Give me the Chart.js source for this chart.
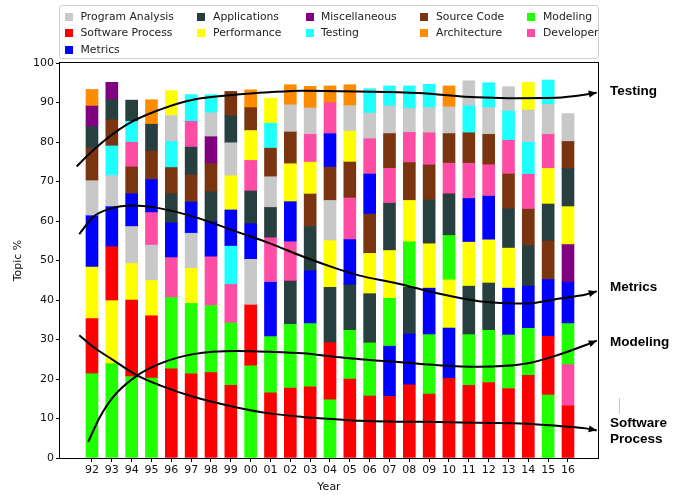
<!DOCTYPE html>
<html><head><meta charset="utf-8">
<script src="https://cdn.jsdelivr.net/npm/chart.js@4"></script>
<style>
body{margin:0;background:#fff;}
#wrap{position:relative;width:686px;height:495px;}
#c{position:absolute;left:0;top:0;}
#legend{position:absolute;left:59px;top:5px;width:540px;height:54px;border:1px solid #cfcfcf;border-radius:3px;background:rgba(255,255,255,0.85);box-sizing:border-box;font-family:"DejaVu Sans",sans-serif;font-size:10.8px;color:#222;z-index:2;}
.li{position:absolute;white-space:nowrap;line-height:12px;height:12px;}
.sw{position:absolute;width:8px;height:8px;}
</style></head><body>
<div id="wrap"><canvas id="c" width="686" height="495"></canvas><div id="legend"></div></div>
<script>
const years = ['92','93','94','95','96','97','98','99','00','01','02','03','04','05','06','07','08','09','10','11','12','13','14','15','16'];
const topics = ['Program Analysis','Software Process','Metrics','Applications','Performance','Miscellaneous','Testing','Source Code','Architecture','Modeling','Developer'];
const colors = ['#c8c8c8','#ff0000','#0000ff','#283f3f','#ffff00','#800080','#1effff','#7a3510','#ff8c00','#22ff00','#ff4da6'];

const programAnalysis = [8.7,7.7,9.2,8.8,6.4,8.7,5.9,8.2,11.4,7.6,6.7,6.5,10.0,6.3,6.3,6.8,5.9,6.2,6.6,6.2,6.6,6.0,8.0,7.4,6.9];
const softwareProcess = [13.8,13.5,19.2,15.6,22.6,21.3,21.6,18.4,15.4,16.5,17.7,18.0,14.3,20.0,15.7,15.6,18.5,16.2,20.2,18.4,19.1,17.6,20.9,14.7,13.2];
const metrics         = [13.0,10.3,8.3,8.2,8.6,7.9,8.7,9.0,9.0,13.6,10.0,13.2,8.3,11.3,10.0,12.7,12.9,11.6,12.7,10.9,10.9,11.7,10.5,14.4,10.3];
const applications    = [5.3,4.9,5.2,6.6,7.4,6.9,7.6,6.9,8.3,7.7,10.8,11.2,14.0,11.5,12.3,11.8,11.8,10.9,10.4,12.1,11.8,9.8,10.3,9.2,9.5];
const performance     = [13.2,15.9,9.4,9.1,6.3,8.9,0,8.8,7.4,6.2,9.6,7.9,12.0,7.8,10.2,12.1,10.3,11.4,12.2,11.3,11.1,10.3,7.0,9.0,9.6];
const miscellaneous   = [5.2,4.4,0,0,0,0,6.8,0,0,0,0,0,0,0,0,0,0,0,0,0,0,0,0,0,9.7];
const testing         = [0,7.5,5.3,0,6.6,6.6,4.6,9.7,0,6.3,0,0,0,0,6.2,5.1,5.7,5.9,0,6.8,6.3,7.4,8.1,6.2,0];
const sourceCode      = [8.4,6.8,6.8,7.4,6.8,7.0,7.3,6.1,5.8,7.4,8.2,8.4,8.6,9.1,10.1,8.8,9.6,8.9,7.5,7.7,7.7,8.8,9.2,9.9,7.0];
const architecture    = [4.2,0,0,6.2,0,0,0,0,4.5,0,5.1,5.5,4.1,5.3,0,0,0,0,5.3,0,0,0,0,0,0];
const modeling        = [21.5,24.1,20.8,20.4,18.0,18.0,17.0,15.8,23.5,14.4,16.3,16.2,14.9,12.5,13.6,12.3,11.7,15.2,11.4,13.0,13.4,13.7,12.1,16.1,10.4];
const developer       = [0,0,6.4,8.4,10.3,6.7,12.5,9.9,7.9,11.4,10.1,7.2,8.0,10.7,9.1,9.0,7.8,8.3,7.9,9.1,8.1,8.7,9.0,8.8,10.6];
const values = [programAnalysis,softwareProcess,metrics,applications,performance,miscellaneous,testing,sourceCode,architecture,modeling,developer];

// hand-drawn trend curves (x = year index, y = topic %)
const testingTrend  = [[-0.77,73.8],[0.07,78.0],[1.75,84.4],[3.43,88.2],[5.09,90.7],[7.3,92.0],[8.93,92.6],[10.63,93.0],[13.5,92.8],[16.44,92.4],[19.4,91.3],[21.0,91.1],[23.4,91.2],[24.9,92.0],[25.45,92.5]];
const metricsTrend  = [[-0.64,56.7],[0.07,61.1],[0.91,63.1],[2.08,63.9],[3.43,63.2],[5.11,61.1],[7.46,57.0],[8.94,54.4],[10.63,51.0],[12.3,48.0],[13.4,46.3],[15.4,44.2],[17.4,41.7],[19.5,39.7],[21.9,39.1],[23.6,40.4],[24.9,41.4],[25.45,42.2]];
const modelingTrend = [[-0.19,4.1],[0.4,10.4],[1.07,15.5],[2.25,20.8],[3.43,23.9],[5.11,26.3],[7.3,27.1],[8.94,26.9],[10.63,26.5],[12.3,25.6],[13.51,25.0],[15.43,24.3],[17.45,23.5],[19.47,23.1],[21.9,23.9],[23.57,26.2],[24.9,28.6],[25.45,29.7]];
const processTrend  = [[-0.64,31.1],[0.07,28.1],[1.07,24.8],[2.25,21.0],[3.43,18.4],[5.11,15.5],[7.3,12.8],[8.94,11.3],[10.63,10.4],[12.3,9.8],[13.51,9.4],[15.43,9.2],[17.45,9.1],[19.47,8.9],[21.9,8.7],[23.57,8.1],[24.9,7.5],[25.45,7.0]];
const trendNames = ['Testing','Metrics','Modeling','Software\nProcess'];
const trends = [testingTrend,metricsTrend,modelingTrend,processTrend];

// bars stacked largest-first per year (floating extents derived from the values)
const extents = topics.map(()=>years.map(()=>null));
years.forEach((yr,j)=>{
  const order = topics.map((t,k)=>k).filter(k=>values[k][j]>0).sort((a,b)=>values[b][j]-values[a][j]);
  let base = 0;
  order.forEach(k=>{ extents[k][j] = [base, base+values[k][j]]; base += values[k][j]; });
});

const barSets = topics.map((t,k)=>({
  type:'bar', label:t, backgroundColor:colors[k], borderWidth:0, grouped:false, barThickness:12,
  data: years.map((yr,j)=> extents[k][j] ? {x:j, y:extents[k][j]} : null).filter(Boolean)
}));
const lineSets = trends.map((tr,i)=>({
  type:'line', label:trendNames[i], data: tr.map(p=>({x:p[0], y:p[1]})),
  borderColor:'#000', borderWidth:2, pointRadius:0, tension:0.4, cubicInterpolationMode:'monotone', fill:false, order:-1
}));

// HTML legend in matplotlib column layout
const colSizes = [3,2,2,2,2];
const swX = [5,136.5,245.6,360,467], txX = [20.5,153,261,376,483], rowY = [10.7,27.3,44];
const lg = document.getElementById('legend');
let idx = 0;
colSizes.forEach((n,c)=>{
  for (let r=0;r<n;r++,idx++){
    const sw = document.createElement('div'); sw.className='sw';
    sw.style.left = swX[c]+'px'; sw.style.top = (rowY[r]-4)+'px'; sw.style.background = colors[idx];
    const tx = document.createElement('div'); tx.className='li';
    tx.style.left = txX[c]+'px'; tx.style.top = (rowY[r]-6)+'px'; tx.textContent = topics[idx];
    lg.appendChild(sw); lg.appendChild(tx);
  }
});

const labelDy = [[-1],[-4],[2],[-7,9]];
const deco = {
  id:'deco',
  afterDatasetsDraw(chart){
    const {ctx, chartArea:a} = chart;
    ctx.save();
    ctx.strokeStyle='#000'; ctx.lineWidth=1;
    ctx.strokeRect(a.left-0.5, a.top-0.5, a.right-a.left+1, a.bottom-a.top+1);
    const lineMetas = chart.getSortedVisibleDatasetMetas().filter(m=>m.type==='line');
    lineMetas.forEach(m=>{
      const i = trendNames.indexOf(chart.data.datasets[m.index].label);
      const pts = m.data, n = pts.length;
      const p1 = pts[n-1], p0 = pts[n-2];
      const ang = Math.atan2(p1.y-p0.y, p1.x-p0.x);
      const L = 8, W = 3.5;
      const bx = p1.x - L*Math.cos(ang), by = p1.y - L*Math.sin(ang);
      ctx.fillStyle='#000';
      ctx.beginPath();
      ctx.moveTo(p1.x, p1.y);
      ctx.lineTo(bx + W*Math.sin(ang), by - W*Math.cos(ang));
      ctx.lineTo(bx - W*Math.sin(ang), by + W*Math.cos(ang));
      ctx.closePath(); ctx.fill();
      ctx.font = 'bold 13.5px "Liberation Sans", Arial, sans-serif';
      ctx.textBaseline = 'middle'; ctx.textAlign = 'left';
      trendNames[i].split('\n').forEach((s,li)=>{
        ctx.fillText(s, a.right + 12, p1.y + labelDy[i][li]);
      });
    });
    ctx.strokeStyle='#c8c8c8'; ctx.lineWidth=1;
    ctx.beginPath(); ctx.moveTo(a.right+21.5, 398); ctx.lineTo(a.right+21.5, 414); ctx.stroke();
    ctx.restore();
  }
};

const tickFont = {family:'"DejaVu Sans", sans-serif', size:11};
new Chart(document.getElementById('c'), {
  type:'bar',
  data:{ datasets:[...barSets, ...lineSets] },
  options:{
    responsive:false, animation:false,
    layout:{ padding:{top:63, right:88, bottom:0, left:0} },
    plugins:{ legend:{display:false}, tooltip:{enabled:false} },
    scales:{
      x:{
        type:'linear', min:-1.613, max:25.513, offset:false,
        grid:{ display:true, drawOnChartArea:false, drawTicks:true, tickLength:4, color:'#000', offset:false },
        border:{ display:false },
        afterBuildTicks:(s)=>{ s.ticks = years.map((yr,i)=>({value:i})); },
        afterFit:(s)=>{ s.height = 37; },
        ticks:{ autoSkip:false, maxRotation:0, minRotation:0, padding:2, color:'#111', font:tickFont, callback:(v)=>years[v] },
        title:{ display:true, text:'Year', color:'#111', font:tickFont, padding:{top:0, bottom:1} }
      },
      y:{
        min:0, max:100,
        grid:{ display:true, drawOnChartArea:false, drawTicks:true, tickLength:4, color:'#000' },
        border:{ display:false },
        afterFit:(s)=>{ s.width = 60; },
        ticks:{ stepSize:10, padding:2, color:'#111', font:tickFont },
        title:{ display:true, text:'Topic %', color:'#111', font:tickFont, padding:{top:12, bottom:0} }
      }
    }
  },
  plugins:[deco]
});
</script>
</body></html>
